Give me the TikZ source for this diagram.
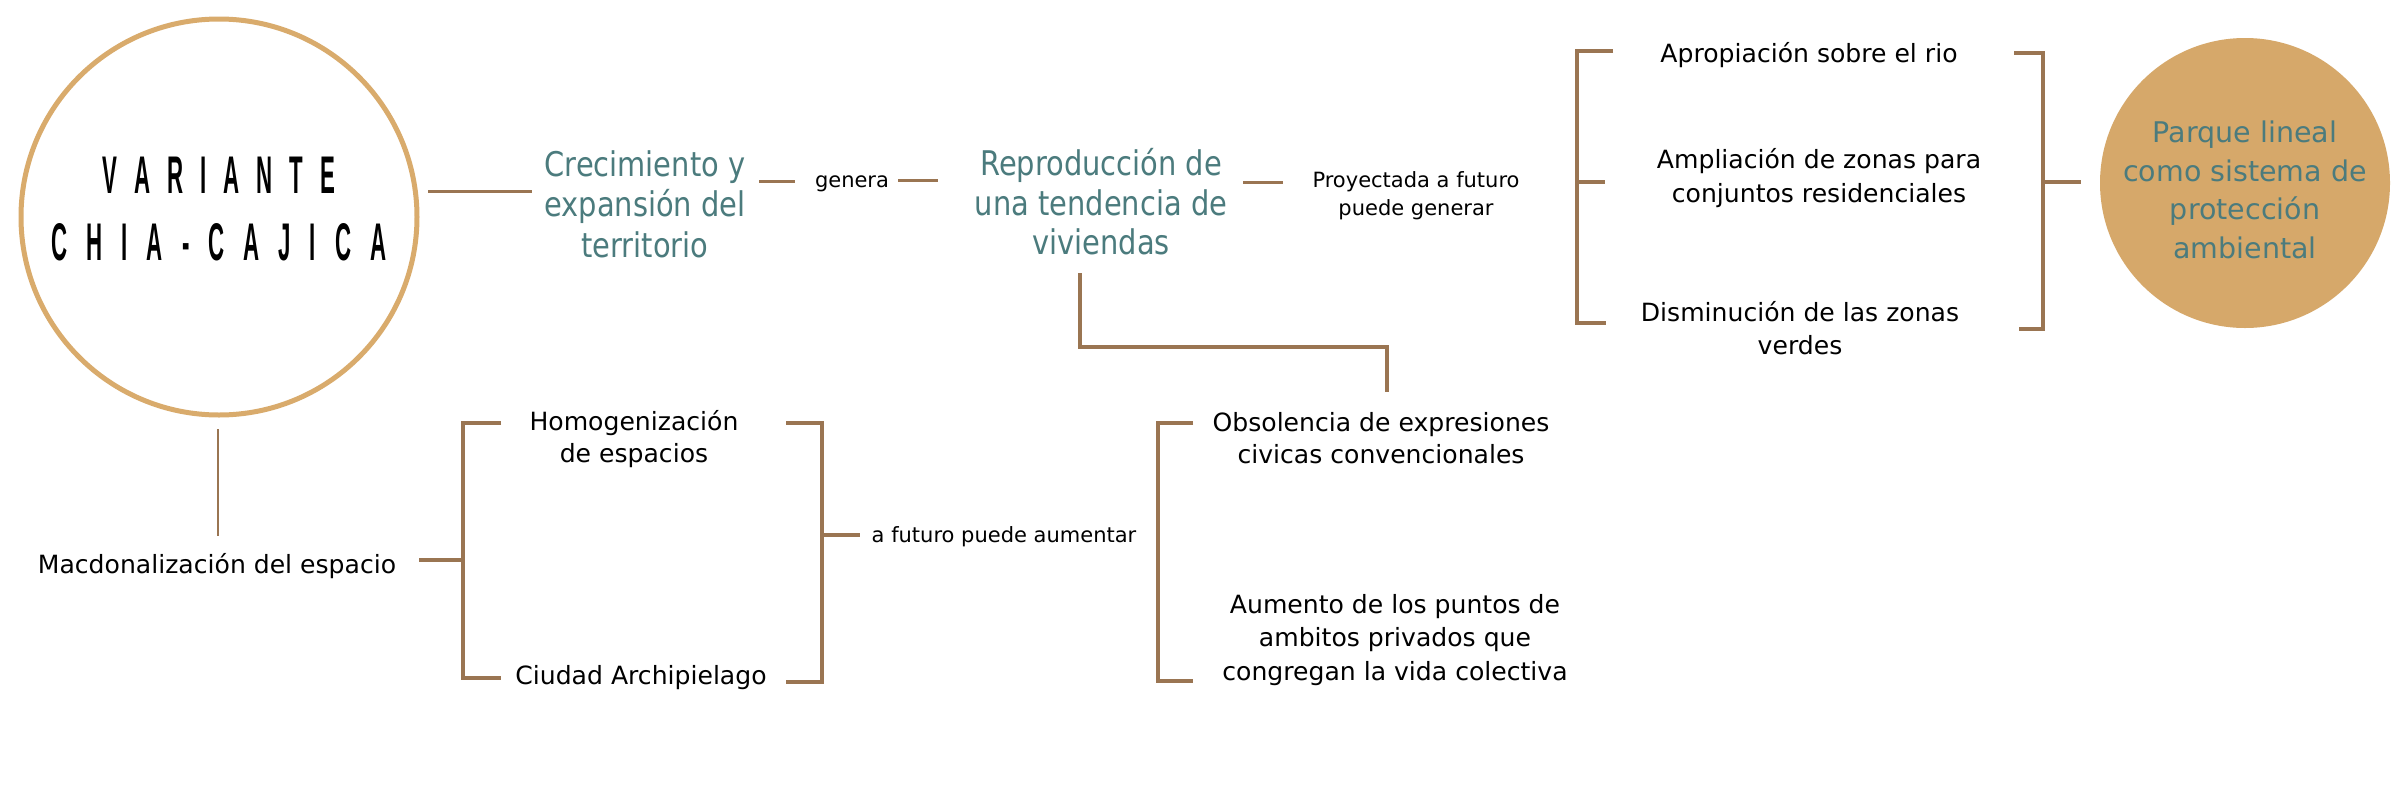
\documentclass[tikz,border=0pt]{standalone}
\usepackage{fontspec}
\setmainfont{DejaVu Sans}
\newfontfamily\titlefont[FakeStretch=0.42]{Liberation Sans}
\newfontfamily\tealfont[FakeStretch=0.85]{DejaVu Sans}
\definecolor{goldring}{HTML}{D9AB6C}
\definecolor{brownline}{HTML}{9A7552}
\definecolor{goldfill}{HTML}{D6A86A}
\definecolor{tealtext}{HTML}{4B7B7D}
\newcommand{\kk}{\hskip 17pt}
\newcommand{\kkk}{\hskip 19pt}
\begin{document}
\begin{tikzpicture}[x=1pt,y=-1pt,
  tealtxt/.style={text=tealtext,font=\tealfont\fontsize{34}{40.5}\selectfont,align=center,inner sep=0pt},
  bodytxt/.style={text=black,font=\fontsize{25.1}{33.5}\selectfont,align=center,inner sep=0pt},
  smalltxt/.style={text=black,font=\fontsize{21}{28}\selectfont,align=center,inner sep=0pt},
  linkline/.style={draw=brownline,line width=3pt},
  thinline/.style={draw=brownline,line width=2.5pt},
  bracketline/.style={draw=brownline,line width=4pt},
]
\useasboundingbox[fill=white] (0,0) rectangle (2399,785);

% main circle
\node[circle,draw=goldring,line width=5pt,minimum size=396pt,inner sep=0pt] (main) at (219,217) {};
\node[font=\titlefont\bfseries\fontsize{53}{67}\selectfont,align=center,inner sep=0pt] (title) at (219,209.5)
  {V\kk A\kk R\kk I\kk A\kk N\kk T\kk E\\C\kkk H\kkk I\kkk A\kkk -\kkk C\kkk A\kkk J\kkk I\kkk C\kkk A};

% top row
\node[tealtxt] (crec) at (645,204) {Crecimiento y\\expansión del\\territorio};
\node[smalltxt,anchor=base] (genera) at (852,187) {genera};
\node[tealtxt,font=\tealfont\fontsize{34}{39.5}\selectfont] (repro) at (1101,202) {Reproducción de\\una tendencia de\\viviendas};
\node[smalltxt] (proy) at (1416,195.5) {Proyectada a futuro\\puede generar};
\node[bodytxt,anchor=base] (apro) at (1809,62) {Apropiación sobre el rio};
\node[bodytxt,font=\fontsize{25.1}{34}\selectfont] (ampl) at (1819,178) {Ampliación de zonas para\\conjuntos residenciales};
\node[bodytxt,font=\fontsize{25.1}{33}\selectfont] (dism) at (1800,328.5) {Disminución de las zonas\\verdes};
\node[circle,fill=goldfill,minimum size=290pt,inner sep=0pt] (parque) at (2245,183) {};
\node[tealtxt,font=\fontsize{28.5}{38.5}\selectfont] (parquetxt) at (2245,190) {Parque lineal\\como sistema de\\protección\\ambiental};

% bottom row
\node[bodytxt,anchor=base] (macd) at (217,573) {Macdonalización del espacio};
\node[bodytxt,font=\fontsize{25.1}{32}\selectfont] (homo) at (634,439) {Homogenización\\de espacios};
\node[bodytxt,anchor=base] (ciud) at (641,684) {Ciudad Archipielago};
\node[smalltxt,anchor=base] (afut) at (1004,542) {a futuro puede aumentar};
\node[bodytxt,font=\fontsize{25.1}{31.6}\selectfont] (obso) at (1381,438) {Obsolencia de expresiones\\civicas convencionales};
\node[bodytxt] (aume) at (1395,640) {Aumento de los puntos de\\ambitos privados que\\congregan la vida colectiva};

% connector coordinates
\coordinate (l1a) at (428,191); \coordinate (l1b) at (532,191);
\coordinate (l2a) at (759,181); \coordinate (l2b) at (795,181);
\coordinate (l3a) at (898,180); \coordinate (l3b) at (938,180);
\coordinate (l4a) at (1243,182); \coordinate (l4b) at (1283,182);
\coordinate (e1) at (1080,273); \coordinate (e2) at (1080,347);
\coordinate (e3) at (1387,347); \coordinate (e4) at (1387,392);
\coordinate (v1) at (218,429); \coordinate (v2) at (218,536);
\coordinate (m1) at (419,560); \coordinate (m2) at (463,560);

\draw[linkline] (l1a) -- (l1b);
\draw[linkline] (l2a) -- (l2b);
\draw[linkline] (l3a) -- (l3b);
\draw[linkline] (l4a) -- (l4b);
\draw[bracketline] (e1) -- (e2) -- (e3) -- (e4);
\draw[thinline] (v1) -- (v2);
\draw[bracketline] (m1) -- (m2);

% bracket A (left of right group)
\coordinate (a1) at (1613,51); \coordinate (a2) at (1577,51);
\coordinate (a3) at (1577,323); \coordinate (a4) at (1606,323);
\coordinate (a5) at (1577,182); \coordinate (a6) at (1605,182);
\draw[bracketline] (a1) -- (a2) -- (a3) -- (a4);
\draw[bracketline] (a5) -- (a6);
% bracket B
\coordinate (b1) at (2014,53); \coordinate (b2) at (2043,53);
\coordinate (b3) at (2043,329); \coordinate (b4) at (2019,329);
\coordinate (b5) at (2043,182); \coordinate (b6) at (2081,182);
\draw[bracketline] (b1) -- (b2) -- (b3) -- (b4);
\draw[bracketline] (b5) -- (b6);
% bracket C
\coordinate (c1) at (501,423); \coordinate (c2) at (463,423);
\coordinate (c3) at (463,678); \coordinate (c4) at (501,678);
\draw[bracketline] (c1) -- (c2) -- (c3) -- (c4);
% bracket D
\coordinate (d1) at (786,423); \coordinate (d2) at (822,423);
\coordinate (d3) at (822,682); \coordinate (d4) at (786,682);
\coordinate (d5) at (822,535); \coordinate (d6) at (860,535);
\draw[bracketline] (d1) -- (d2) -- (d3) -- (d4);
\draw[bracketline] (d5) -- (d6);
% bracket E
\coordinate (f1) at (1193,423); \coordinate (f2) at (1158,423);
\coordinate (f3) at (1158,681); \coordinate (f4) at (1193,681);
\draw[bracketline] (f1) -- (f2) -- (f3) -- (f4);
\end{tikzpicture}
\end{document}
